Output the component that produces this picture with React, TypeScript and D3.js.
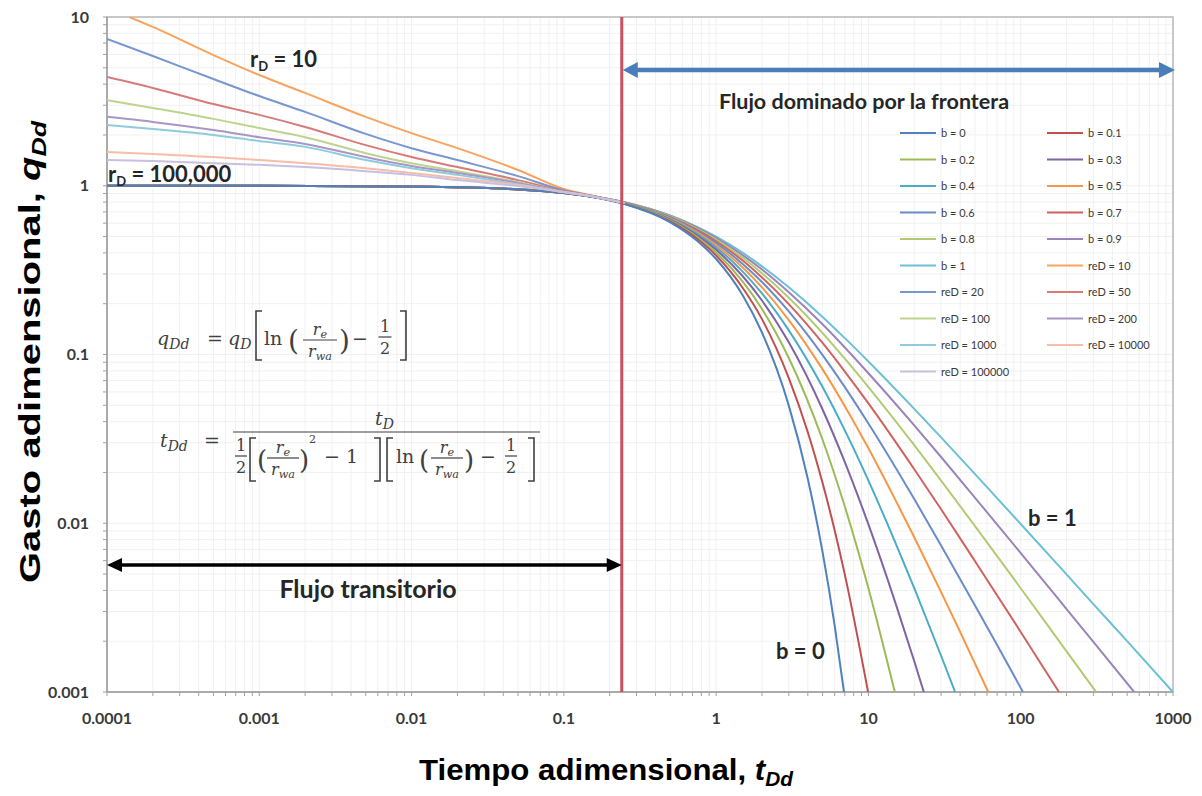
import React from 'react';
import * as d3 from 'd3';

type Pt = [number, number];

const xTickValues = [0.0001, 0.001, 0.01, 0.1, 1, 10, 100, 1000];
const xTickLabels = ['0.0001', '0.001', '0.01', '0.1', '1', '10', '100', '1000'];
const yTickValues = [0.001, 0.01, 0.1, 1, 10];
const yTickLabels = ['0.001', '0.01', '0.1', '1', '10'];

const boundaryTime = 0.24;

const bLabels = ['0', '0.1', '0.2', '0.3', '0.4', '0.5', '0.6', '0.7', '0.8', '0.9', '1'];
const reDLabels = ['10', '20', '50', '100', '200', '1000', '10000', '100000'];

// Arps decline stems (tDd, qDd)
const arpsB0: Pt[] = [[0.0001, 1], [0.001, 0.999], [0.01, 0.990], [0.02, 0.980], [0.05, 0.951], [0.1, 0.905], [0.15, 0.861], [0.25, 0.779], [0.5, 0.607], [0.75, 0.472], [1, 0.368], [1.5, 0.223], [2, 0.135], [3, 0.0498], [4, 0.0183], [5, 0.00674], [6, 0.00248], [6.91, 0.001]];
const arpsB01: Pt[] = [[0.0001, 1], [0.001, 0.999], [0.01, 0.990], [0.02, 0.980], [0.05, 0.951], [0.1, 0.905], [0.15, 0.862], [0.25, 0.781], [0.5, 0.614], [0.75, 0.485], [1, 0.386], [1.5, 0.247], [2, 0.162], [3, 0.0725], [4, 0.0346], [5, 0.0173], [6, 0.0091], [7, 0.00496], [9.95, 0.001]];
const arpsB02: Pt[] = [[0.0001, 1], [0.001, 0.999], [0.01, 0.990], [0.02, 0.980], [0.05, 0.951], [0.1, 0.906], [0.15, 0.862], [0.25, 0.784], [0.5, 0.621], [0.75, 0.497], [1, 0.402], [1.5, 0.269], [2, 0.186], [3, 0.0954], [5, 0.03125], [7, 0.01256], [10, 0.00412], [14.9, 0.001]];
const arpsB03: Pt[] = [[0.0001, 1], [0.001, 0.999], [0.01, 0.990], [0.02, 0.980], [0.05, 0.951], [0.1, 0.906], [0.15, 0.863], [0.25, 0.786], [0.5, 0.628], [0.75, 0.508], [1, 0.417], [1.5, 0.290], [2, 0.209], [3, 0.118], [5, 0.0472], [7, 0.0230], [10, 0.00984], [15, 0.0034], [20, 0.00152], [23.1, 0.001]];
const arpsB04: Pt[] = [[0.0001, 1], [0.001, 0.999], [0.01, 0.990], [0.02, 0.980], [0.05, 0.952], [0.1, 0.907], [0.15, 0.864], [0.25, 0.788], [0.5, 0.634], [0.75, 0.519], [1, 0.431], [1.5, 0.309], [2, 0.230], [3, 0.139], [5, 0.0641], [7, 0.0355], [10, 0.0179], [15, 0.00771], [20, 0.00412], [30, 0.00164], [37.1, 0.001]];
const arpsB05: Pt[] = [[0.0001, 1], [0.001, 0.999], [0.01, 0.990], [0.02, 0.980], [0.05, 0.952], [0.1, 0.907], [0.15, 0.865], [0.25, 0.790], [0.5, 0.640], [0.75, 0.529], [1, 0.444], [1.5, 0.327], [2, 0.25], [3, 0.16], [5, 0.0816], [7, 0.0494], [10, 0.0278], [15, 0.0138], [20, 0.00826], [30, 0.00391], [40, 0.00227], [61.2, 0.001]];
const arpsB06: Pt[] = [[0.0001, 1], [0.001, 0.999], [0.01, 0.990], [0.02, 0.980], [0.05, 0.952], [0.1, 0.907], [0.15, 0.866], [0.25, 0.792], [0.5, 0.646], [0.75, 0.538], [1, 0.457], [1.5, 0.343], [2, 0.269], [3, 0.180], [5, 0.0992], [7, 0.0641], [10, 0.0390], [20, 0.0139], [30, 0.00739], [50, 0.00327], [70, 0.0019], [103.5, 0.001]];
const arpsB07: Pt[] = [[0.0001, 1], [0.001, 0.999], [0.01, 0.990], [0.02, 0.980], [0.05, 0.952], [0.1, 0.908], [0.15, 0.867], [0.25, 0.794], [0.5, 0.651], [0.75, 0.547], [1, 0.469], [1.5, 0.359], [2, 0.286], [3, 0.199], [5, 0.117], [7, 0.0792], [10, 0.0513], [20, 0.0209], [30, 0.0121], [50, 0.00598], [100, 0.00227], [178.4, 0.001]];
const arpsB08: Pt[] = [[0.0001, 1], [0.001, 0.999], [0.01, 0.990], [0.02, 0.980], [0.05, 0.952], [0.1, 0.908], [0.15, 0.868], [0.25, 0.796], [0.5, 0.657], [0.75, 0.556], [1, 0.480], [1.5, 0.373], [2, 0.303], [3, 0.217], [5, 0.134], [7, 0.0945], [10, 0.0641], [20, 0.0290], [30, 0.0179], [50, 0.00964], [100, 0.00412], [200, 0.00174], [312.7, 0.001]];
const arpsB09: Pt[] = [[0.0001, 1], [0.001, 0.999], [0.01, 0.990], [0.02, 0.980], [0.05, 0.952], [0.1, 0.909], [0.15, 0.869], [0.25, 0.798], [0.5, 0.662], [0.75, 0.564], [1, 0.490], [1.5, 0.387], [2, 0.319], [3, 0.234], [5, 0.151], [7, 0.110], [10, 0.0774], [20, 0.0380], [30, 0.0247], [50, 0.0142], [100, 0.00666], [200, 0.0031], [300, 0.00198], [555.7, 0.001]];
const arpsB1: Pt[] = [[0.0001, 1], [0.001, 0.999], [0.01, 0.990], [0.02, 0.980], [0.05, 0.952], [0.1, 0.909], [0.15, 0.870], [0.25, 0.8], [0.5, 0.667], [0.75, 0.571], [1, 0.5], [1.5, 0.4], [2, 0.333], [3, 0.25], [5, 0.167], [7, 0.125], [10, 0.0909], [20, 0.0476], [30, 0.0323], [50, 0.0196], [100, 0.0099], [200, 0.00498], [300, 0.00332], [500, 0.002], [1000, 0.000999]];

// Transient stems (tDd, qDd)
const transReD10: Pt[] = [[0.00014, 10.0], [0.0002, 8.73], [0.0005, 5.95], [0.001, 4.53], [0.002, 3.55], [0.005, 2.56], [0.01, 2.05], [0.02, 1.67], [0.05, 1.24], [0.1, 0.957], [0.15, 0.88], [0.25, 0.79]];
const transReD20: Pt[] = [[0.0001, 7.41], [0.0002, 5.87], [0.0005, 4.29], [0.001, 3.40], [0.002, 2.74], [0.005, 2.03], [0.01, 1.67], [0.02, 1.42], [0.05, 1.14], [0.1, 0.94], [0.15, 0.876], [0.25, 0.79]];
const transReD50: Pt[] = [[0.0001, 4.41], [0.0002, 3.80], [0.0005, 3.05], [0.001, 2.63], [0.002, 2.23], [0.005, 1.74], [0.01, 1.48], [0.02, 1.29], [0.05, 1.08], [0.1, 0.93], [0.15, 0.872], [0.25, 0.79]];
const transReD100: Pt[] = [[0.0001, 3.22], [0.0002, 2.89], [0.0005, 2.49], [0.001, 2.20], [0.002, 1.94], [0.005, 1.56], [0.01, 1.36], [0.02, 1.22], [0.05, 1.05], [0.1, 0.918], [0.15, 0.868], [0.25, 0.79]];
const transReD200: Pt[] = [[0.0001, 2.56], [0.0002, 2.39], [0.0005, 2.14], [0.001, 1.94], [0.002, 1.77], [0.005, 1.48], [0.01, 1.31], [0.02, 1.19], [0.05, 1.04], [0.1, 0.918], [0.15, 0.868], [0.25, 0.79]];
const transReD1000: Pt[] = [[0.0001, 2.29], [0.0002, 2.17], [0.0005, 2.00], [0.001, 1.84], [0.002, 1.70], [0.005, 1.42], [0.01, 1.27], [0.02, 1.16], [0.05, 1.02], [0.1, 0.918], [0.15, 0.868], [0.25, 0.79]];
const transReD10000: Pt[] = [[0.0001, 1.585], [0.0002, 1.54], [0.0005, 1.48], [0.001, 1.42], [0.002, 1.36], [0.005, 1.27], [0.01, 1.19], [0.02, 1.11], [0.05, 1.01], [0.1, 0.918], [0.15, 0.868], [0.25, 0.79]];
const transReD100000: Pt[] = [[0.0001, 1.42], [0.0002, 1.40], [0.0005, 1.36], [0.001, 1.33], [0.002, 1.29], [0.005, 1.22], [0.01, 1.16], [0.02, 1.08], [0.05, 0.997], [0.1, 0.918], [0.15, 0.868], [0.25, 0.79]];

const arpsData = [arpsB0, arpsB01, arpsB02, arpsB03, arpsB04, arpsB05, arpsB06, arpsB07, arpsB08, arpsB09, arpsB1];
const transData = [transReD10, transReD20, transReD50, transReD100, transReD200, transReD1000, transReD10000, transReD100000];

const arpsColors = ['#4F81BD', '#C0504D', '#9BBB59', '#8064A2', '#4BACC6', '#F79646', '#6A8CC8', '#CF6360', '#B2CB73', '#9A84BA', '#6CC0D6'];
const transColors = ['#F8A35E', '#7896CF', '#D77B79', '#BDD48F', '#A896C6', '#8FCBDC', '#F7BDA8', '#C9BFE0'];

const W = 1202;
const H = 796;

function Bracket({ x, top, bottom, dir }: { x: number; top: number; bottom: number; dir: 1 | -1 }) {
  const w = 6 * dir;
  return <path d={`M${x + w},${top} H${x} V${bottom} H${x + w}`} fill="none" stroke="#404040" strokeWidth={1.6} />;
}

function Frac({ cx, barY, num, den, size, width }: { cx: number; barY: number; num: React.ReactNode; den: React.ReactNode; size: number; width: number }) {
  return (
    <g>
      <text x={cx} y={barY - 5} fontSize={size} textAnchor="middle">{num}</text>
      <line x1={cx - width / 2} x2={cx + width / 2} y1={barY} y2={barY} stroke="#404040" strokeWidth={1.2} />
      <text x={cx} y={barY + size + 1} fontSize={size} textAnchor="middle">{den}</text>
    </g>
  );
}

const RE = (
  <>
    <tspan fontStyle="italic">r</tspan>
    <tspan fontStyle="italic" fontSize="0.7em" dy="3">e</tspan>
  </>
);
const RWA = (
  <>
    <tspan fontStyle="italic">r</tspan>
    <tspan fontStyle="italic" fontSize="0.7em" dy="3">wa</tspan>
  </>
);

export default function App() {
  const x = d3.scaleLog().domain([1e-4, 1e3]).range([107, 1173]);
  const y = d3.scaleLog().domain([1e-3, 10]).range([692, 17]);
  const [xl, xr] = x.range();
  const [yb, yt] = y.range();
  const line = d3
    .line<Pt>()
    .x((d) => x(d[0]))
    .y((d) => y(d[1]))
    .curve(d3.curveMonotoneX);

  const gridX = x.ticks();
  const gridY = y.ticks();
  const xb = x(boundaryTime);
  const arrowY1 = 565;
  const arrowY2 = 70;

  const legendItems = [
    ...bLabels.map((b, i) => ({ label: `b =  ${b}`, color: arpsColors[i] })),
    ...reDLabels.map((r, i) => ({ label: `reD = ${r}`, color: transColors[i] })),
  ];

  const eqFont = "'DejaVu Serif', 'Liberation Serif', serif";

  return (
    <svg width={W} height={H} style={{ position: 'absolute', left: 0, top: 0, background: '#fff' }} fontFamily="Lato, 'Open Sans', sans-serif">
      <defs>
        <clipPath id="plotClip">
          <rect x={xl} y={yt} width={xr - xl} height={yb - yt} />
        </clipPath>
      </defs>
      <rect x={0} y={0} width={W} height={H} fill="#fff" />
      {/* grid */}
      <g stroke="#F1F1F1" strokeWidth={1}>
        {gridX.map((v, i) => (
          <line key={'gx' + i} x1={x(v)} x2={x(v)} y1={yt} y2={yb} />
        ))}
        {gridY.map((v, i) => (
          <line key={'gy' + i} x1={xl} x2={xr} y1={y(v)} y2={y(v)} />
        ))}
      </g>
      {/* border and axes */}
      <rect x={xl} y={yt} width={xr - xl} height={yb - yt} fill="none" stroke="#B8B8B8" strokeWidth={1.5} />
      <g stroke="#A0A0A0" strokeWidth={1}>
        {gridX.map((v, i) => (
          <line key={'tx' + i} x1={x(v)} x2={x(v)} y1={yb} y2={yb + 4} />
        ))}
        {gridY.map((v, i) => (
          <line key={'ty' + i} x1={xl - 4} x2={xl} y1={y(v)} y2={y(v)} />
        ))}
      </g>
      <line x1={xl} x2={xr} y1={yb} y2={yb} stroke="#A0A0A0" strokeWidth={1.5} />
      <line x1={xl} x2={xl} y1={yt} y2={yb} stroke="#A0A0A0" strokeWidth={1.5} />

      {/* tick labels */}
      <g fontSize={16} fontWeight={700} fill="#3A3A3A">
        {xTickValues.map((v, i) => (
          <text key={'xl' + i} x={x(v)} y={724} textAnchor="middle">{xTickLabels[i]}</text>
        ))}
        {yTickValues.map((v, i) => (
          <text key={'yl' + i} x={89} y={y(v) + 5.5} textAnchor="end">{yTickLabels[i]}</text>
        ))}
      </g>

      {/* curves */}
      <g clipPath="url(#plotClip)" fill="none" strokeWidth={2}>
        {arpsData
          .map((d, i) => ({ d, i }))
          .reverse()
          .map(({ d, i }) => (
            <path key={'a' + i} d={line(d) || ''} stroke={arpsColors[i]} />
          ))}
        {transData.map((d, i) => (
          <path key={'t' + i} d={line(d) || ''} stroke={transColors[i]} />
        ))}
      </g>

      {/* boundary line */}
      <line x1={xb} x2={xb} y1={yt} y2={yb} stroke="#C8505F" strokeWidth={3} />

      {/* transient arrow */}
      <line x1={xl + 12} x2={xb - 12} y1={arrowY1} y2={arrowY1} stroke="#000" strokeWidth={3.5} />
      <polygon points={`${xl},${arrowY1} ${xl + 15},${arrowY1 - 7} ${xl + 15},${arrowY1 + 7}`} fill="#000" />
      <polygon points={`${xb},${arrowY1} ${xb - 15},${arrowY1 - 7} ${xb - 15},${arrowY1 + 7}`} fill="#000" />
      <text x={368} y={598} textAnchor="middle" fontSize={25} fontWeight={700} fill="#262626">Flujo transitorio</text>

      {/* boundary-dominated arrow */}
      <line x1={xb + 12} x2={xr - 12} y1={arrowY2} y2={arrowY2} stroke="#4A7EBB" strokeWidth={4.5} />
      <polygon points={`${xb + 1},${arrowY2} ${xb + 16},${arrowY2 - 8} ${xb + 16},${arrowY2 + 8}`} fill="#4A7EBB" />
      <polygon points={`${xr + 2},${arrowY2} ${xr - 14},${arrowY2 - 8} ${xr - 14},${arrowY2 + 8}`} fill="#4A7EBB" />
      <text x={864} y={109} textAnchor="middle" fontSize={21.5} fontWeight={700} fill="#262626">Flujo dominado por la frontera</text>

      {/* curve annotations */}
      <g fontSize={22} fontWeight={700} fill="#262626">
        <text x={250} y={67}>
          r<tspan fontSize={13} dy={4}>D</tspan>
          <tspan dy={-4}> = 10</tspan>
        </text>
        <text x={108} y={182}>
          r<tspan fontSize={13} dy={4}>D</tspan>
          <tspan dy={-4}> = 100,000</tspan>
        </text>
        <text x={1028} y={526}>b = 1</text>
        <text x={776} y={659}>b = 0</text>
      </g>

      {/* legend */}
      <g fontSize={11} fill="#3A3A3A">
        {legendItems.map((it, i) => {
          const col = i % 2;
          const row = Math.floor(i / 2);
          const lx = col === 0 ? 900 : 1047;
          const ly = 133 + row * 26.5;
          return (
            <g key={'lg' + i}>
              <line x1={lx} x2={lx + 36} y1={ly} y2={ly} stroke={it.color} strokeWidth={2} />
              <text x={lx + 41} y={ly + 4}>{it.label}</text>
            </g>
          );
        })}
      </g>

      {/* equations */}
      <g fontFamily={eqFont} fill="#404040" fontSize={19}>
        {/* eq 1 */}
        <text x={157} y={345} fontStyle="italic">q<tspan fontSize={14} dy={4}>Dd</tspan></text>
        <text x={207} y={345}>=</text>
        <text x={228} y={345} fontStyle="italic">q<tspan fontSize={14} dy={4}>D</tspan></text>
        <Bracket x={256} top={311} bottom={360} dir={1} />
        <text x={264} y={345}>ln</text>
        <text x={288} y={350} fontSize={28}>(</text>
        <Frac cx={320} barY={340} num={RE} den={RWA} size={16} width={34} />
        <text x={339} y={350} fontSize={28}>)</text>
        <text x={352} y={345}>−</text>
        <Frac cx={385} barY={337} num="1" den="2" size={16} width={13} />
        <Bracket x={406} top={311} bottom={360} dir={-1} />

        {/* eq 2 */}
        <text x={160} y={447} fontStyle="italic">t<tspan fontSize={14} dy={4}>Dd</tspan></text>
        <text x={204} y={447}>=</text>
        <line x1={233} x2={540} y1={432} y2={432} stroke="#404040" strokeWidth={1.2} />
        <text x={375} y={425} fontStyle="italic">t<tspan fontSize={14} dy={4}>D</tspan></text>
        <Frac cx={241} barY={456} num="1" den="2" size={16} width={12} />
        <Bracket x={250} top={438} bottom={481} dir={1} />
        <text x={257} y={469} fontSize={26}>(</text>
        <Frac cx={283} barY={458} num={RE} den={RWA} size={16} width={32} />
        <text x={299} y={469} fontSize={26}>)</text>
        <text x={309} y={443} fontSize={11}>2</text>
        <text x={324} y={463}>− 1</text>
        <Bracket x={380} top={438} bottom={481} dir={-1} />
        <Bracket x={387} top={438} bottom={481} dir={1} />
        <text x={396} y={463}>ln</text>
        <text x={419} y={469} fontSize={26}>(</text>
        <Frac cx={447} barY={458} num={RE} den={RWA} size={16} width={32} />
        <text x={464} y={469} fontSize={26}>)</text>
        <text x={480} y={463}>−</text>
        <Frac cx={511} barY={456} num="1" den="2" size={16} width={12} />
        <Bracket x={534} top={438} bottom={481} dir={-1} />
      </g>

      {/* axis titles */}
      <text x={606} y={780} textAnchor="middle" fontFamily="'Liberation Sans', Arial, sans-serif" fontWeight={700} fontSize={30} fill="#000" textLength={374} lengthAdjust="spacingAndGlyphs">
        Tiempo adimensional, <tspan fontStyle="italic">t</tspan>
        <tspan fontStyle="italic" fontSize={20} dy={6}>Dd</tspan>
      </text>
      <text transform="translate(40,352) rotate(-90)" textAnchor="middle" fontFamily="'Liberation Sans', Arial, sans-serif" fontWeight={700} fontSize={30} fill="#000" textLength={462} lengthAdjust="spacingAndGlyphs">
        Gasto adimensional, <tspan fontStyle="italic">q</tspan>
        <tspan fontStyle="italic" fontSize={20} dy={6}>Dd</tspan>
      </text>
    </svg>
  );
}
